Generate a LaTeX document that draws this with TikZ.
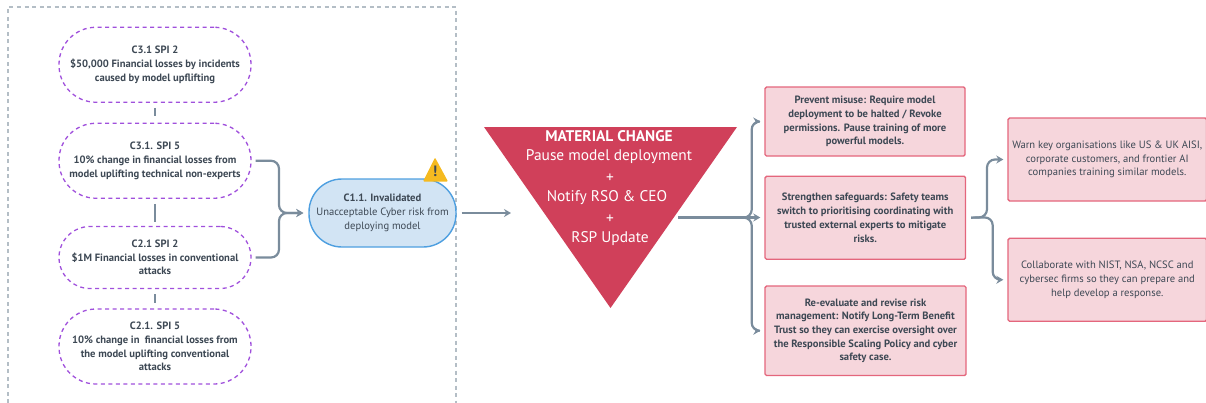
\documentclass[tikz,border=0pt]{standalone}
\usepackage{fontspec}
\setmainfont{PT Sans}
\usetikzlibrary{arrows.meta}
\definecolor{ink}{HTML}{3D4854}
\definecolor{conn}{HTML}{7A8C9C}
\definecolor{frame}{HTML}{B4BEC6}
\definecolor{purp}{HTML}{A050DC}
\definecolor{bluefill}{HTML}{D2E4F4}
\definecolor{blueline}{HTML}{4E9FE0}
\definecolor{redtri}{HTML}{D0405A}
\definecolor{pinkfill}{HTML}{F6D6DC}
\definecolor{pinkline}{HTML}{E4667C}
\definecolor{warn}{HTML}{F5BA20}
\tikzset{
  x=1pt,y=-1pt,
  spi/.style={draw=purp,line width=1.3pt,dash pattern=on 4pt off 3.5pt,rounded corners=37pt,minimum width=192pt,align=center,text=ink,inner sep=0pt,font=\fontsize{10.6}{13.7}\selectfont\bfseries},
  pinkbox/.style={draw=pinkline,fill=pinkfill,line width=1.4pt,rounded corners=1.5pt,align=center,text=ink,inner sep=0pt,font=\fontsize{10.6}{13.7}\selectfont\bfseries},
  plainbox/.style={pinkbox,font=\fontsize{10.6}{13.7}\selectfont},
  link/.style={draw=conn,line width=2.2pt},
  flow/.style={link,-{Stealth[length=7pt,width=8pt]},rounded corners=8pt},
  tritext/.style={text=white,font=\fontsize{15.4}{16}\selectfont,inner sep=0pt},
}
\begin{document}
\begin{tikzpicture}
\useasboundingbox (0,0) rectangle (1206,402);
\draw[frame,line width=1.2pt,dash pattern=on 4pt off 3.5pt] (8,403)--(8,7)--(456,7)--(456,403);
\node[spi,minimum height=75pt] (n1) at (155,64.75) {C3.1 SPI 2\\\$50,000 Financial losses by incidents\\caused by model upflifting};
\node[spi,minimum height=75pt] (n2) at (155,160.75) {C3.1. SPI 5\\10\% change in financial losses from\\model uplifting technical non-experts};
\node[spi,minimum height=62pt,rounded corners=31pt] (n3) at (155,257.5) {C2.1 SPI 2\\\$1M Financial losses in conventional\\attacks};
\node[spi,minimum height=75pt] (n4) at (155,346.5) {C2.1. SPI 5\\10\% change in\ \ financial losses from\\the model uplifting conventional\\attacks};
\draw[link,shorten <=5pt,shorten >=7pt] (n1.south) -- (n2.north);
\draw[link,shorten <=5pt,shorten >=4pt] (n2.south) -- (n3.north);
\draw[link,shorten <=5pt,shorten >=5pt] (n3.south) -- (n4.north);
\node[draw=blueline,fill=bluefill,line width=1.4pt,rounded corners=33pt,minimum width=147pt,minimum height=68pt,align=center,text=ink,inner sep=0pt,font=\fontsize{10.6}{13.7}\selectfont] (c11) at (382.5,213) {{\bfseries C1.1. Invalidated}\\Unacceptable Cyber risk from\\deploying model};
\fill[warn,rounded corners=1pt] (435,157.5)--(448,181.5)--(423,181.5)--cycle;
\node[text=ink,inner sep=0pt,font=\fontsize{15}{15}\selectfont\bfseries] (warnmark) at (435,171.5) {!};
\coordinate (j1) at (279,213);
\draw[flow,shorten <=4pt,shorten >=5pt] (n2.east) -| (j1) -- (c11.west);
\draw[flow,shorten <=4pt,shorten >=5pt] (n3.east) -| (j1) -- (c11.west);
\fill[redtri] (484,127)--(737,127)--(610.5,308)--cycle;
\coordinate (triin) at (511,213);
\coordinate (triout) at (678,217.5);
\draw[flow,shorten <=5pt] (c11.east) -- (c11.east -| triin);
\node[tritext,font=\fontsize{15.4}{16}\selectfont\bfseries] (t1) at (609,136) {MATERIAL CHANGE};
\node[tritext] (t2) at (609,157) {Pause model deployment};
\node[tritext] (t3) at (610,178) {+};
\node[tritext] (t4) at (607,198) {Notify RSO \& CEO};
\node[tritext] (t5) at (610,219) {+};
\node[tritext] (t6) at (610,239) {RSP Update};
\node[pinkbox,minimum width=200pt,minimum height=69pt] (b1) at (865,121.5) {Prevent misuse: Require model\\deployment to be halted / Revoke\\permissions. Pause training of more\\powerful models.};
\node[pinkbox,minimum width=200.5pt,minimum height=83pt] (b2) at (865.25,217.75) {Strengthen safeguards: Safety teams\\switch to prioritising coordinating with\\trusted external experts to mitigate\\risks.};
\node[pinkbox,minimum width=201pt,minimum height=89.5pt] (b3) at (865.5,330.75) {Re-evaluate and revise risk\\management: Notify Long-Term Benefit\\Trust so they can exercise oversight over\\the Responsible Scaling Policy and cyber\\safety case.};
\node[plainbox,minimum width=198.5pt,minimum height=83pt] (b4) at (1107.25,159.5) {Warn key organisations like US \& UK AISI,\\corporate customers, and frontier AI\\companies training similar models.};
\node[plainbox,minimum width=198.5pt,minimum height=83pt] (b5) at (1107.25,279.75) {Collaborate with NIST, NSA, NCSC and\\cybersec firms so they can prepare and\\help develop a response.};
\coordinate (s1) at (751.7,217.6);
\draw[flow,shorten >=4pt] (triout) -- (s1) |- (b1.west);
\draw[flow,shorten >=4pt] (triout) -- (b2.west |- triout);
\draw[flow,shorten >=4pt] (triout) -- (s1) |- (b3.west);
\coordinate (s2) at (987,217.3);
\coordinate (s3) at (992.7,217.3);
\draw[flow,shorten <=5pt,shorten >=4pt] (b2.east) -- (s2) |- (b4.west);
\draw[flow,shorten <=5pt,shorten >=4pt] (b2.east) -- (s3) |- (b5.west);
\end{tikzpicture}
\end{document}
